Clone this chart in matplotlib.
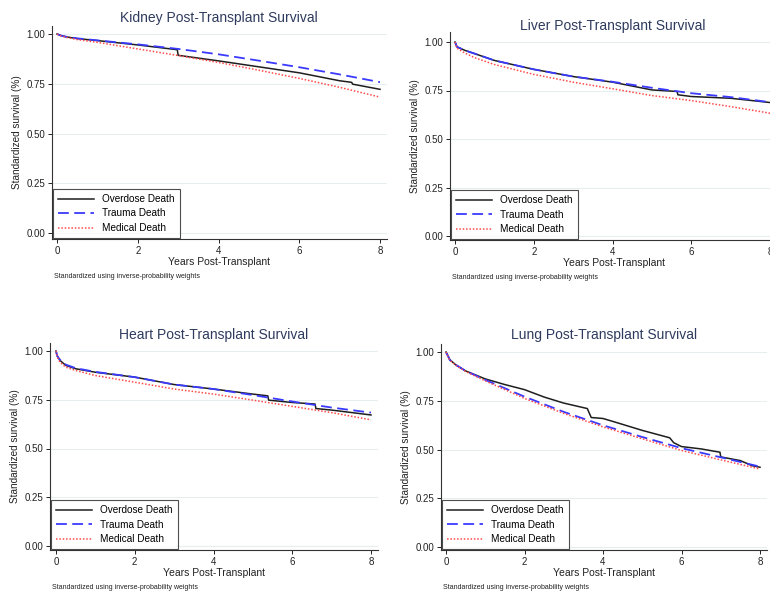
import numpy as np
import matplotlib
matplotlib.use("Agg")
import matplotlib.pyplot as plt

plt.rcParams['font.family'] = ['Liberation Sans', 'DejaVu Sans']

W, H = 770, 593

# ---- data (years, standardized survival) ----
kidney_od_t = [0, 0.1, 0.25, 0.5, 1, 2, 2.98, 3.0, 4, 5, 6, 7, 7.3, 7.32, 8]
kidney_od_s = [1.0, 0.992, 0.985, 0.977, 0.967, 0.945, 0.921, 0.893, 0.865, 0.835, 0.805, 0.765, 0.757, 0.748, 0.722]
kidney_tr_t = [0, 0.1, 0.25, 0.5, 1, 2, 3, 4, 5, 6, 7, 8]
kidney_tr_s = [1.0, 0.992, 0.985, 0.978, 0.968, 0.948, 0.925, 0.898, 0.866, 0.833, 0.797, 0.758]
kidney_md_t = [0, 0.1, 0.25, 0.5, 1, 2, 3, 4, 5, 6, 7, 8]
kidney_md_s = [1.0, 0.99, 0.982, 0.972, 0.958, 0.925, 0.892, 0.857, 0.818, 0.777, 0.732, 0.683]

liver_od_t = [0, 0.05, 0.25, 0.5, 1, 2, 3, 4, 5, 5.64, 5.66, 6, 7, 8]
liver_od_s = [1.0, 0.975, 0.957, 0.94, 0.905, 0.859, 0.822, 0.793, 0.753, 0.745, 0.728, 0.719, 0.71, 0.688]
liver_tr_t = [0, 0.05, 0.25, 0.5, 1, 2, 3, 4, 5, 6, 7, 8]
liver_tr_s = [1.0, 0.975, 0.957, 0.94, 0.905, 0.859, 0.822, 0.795, 0.764, 0.736, 0.716, 0.69]
liver_md_t = [0, 0.05, 0.25, 0.5, 1, 2, 3, 4, 5, 6, 7, 8]
liver_md_s = [1.0, 0.968, 0.943, 0.919, 0.884, 0.833, 0.793, 0.759, 0.724, 0.698, 0.667, 0.633]

heart_od_t = [0, 0.03, 0.1, 0.25, 0.5, 1, 2, 3, 4, 5, 5.38, 5.4, 6, 6.58, 6.6, 7, 8]
heart_od_s = [1.0, 0.975, 0.952, 0.926, 0.909, 0.891, 0.866, 0.828, 0.805, 0.779, 0.77, 0.748, 0.736, 0.728, 0.705, 0.697, 0.672]
heart_tr_t = [0, 0.03, 0.1, 0.25, 0.5, 1, 2, 3, 4, 5, 6, 7, 8]
heart_tr_s = [1.0, 0.975, 0.955, 0.93, 0.912, 0.893, 0.866, 0.828, 0.805, 0.774, 0.741, 0.71, 0.684]
heart_md_t = [0, 0.03, 0.1, 0.25, 0.5, 1, 2, 3, 4, 5, 6, 7, 8]
heart_md_s = [1.0, 0.97, 0.943, 0.917, 0.9, 0.874, 0.84, 0.805, 0.779, 0.748, 0.716, 0.684, 0.647]

lung_od_t = [0, 0.1, 0.25, 0.5, 1, 1.5, 2, 2.5, 3, 3.6, 3.7, 4, 4.3, 5, 5.7, 5.8, 6, 6.5, 6.98, 7.0, 7.5, 7.8, 8]
lung_od_s = [1.0, 0.96, 0.934, 0.903, 0.862, 0.833, 0.807, 0.769, 0.738, 0.71, 0.664, 0.659, 0.641, 0.598, 0.56, 0.535, 0.515, 0.503, 0.486, 0.462, 0.443, 0.417, 0.409]
lung_tr_t = [0, 0.1, 0.25, 0.5, 1, 2, 3, 4, 5, 6, 7, 8]
lung_tr_s = [1.0, 0.958, 0.934, 0.903, 0.857, 0.771, 0.693, 0.624, 0.564, 0.507, 0.46, 0.412]
lung_md_t = [0, 0.1, 0.25, 0.5, 1, 2, 3, 4, 5, 6, 7, 8]
lung_md_s = [1.0, 0.957, 0.932, 0.9, 0.852, 0.762, 0.685, 0.616, 0.555, 0.495, 0.447, 0.40]

titles = ["Kidney Post-Transplant Survival", "Liver Post-Transplant Survival",
          "Heart Post-Transplant Survival", "Lung Post-Transplant Survival"]
labels = ["Overdose Death", "Trauma Death", "Medical Death"]
yticks = [0, 0.25, 0.5, 0.75, 1.0]
xticks = [0, 2, 4, 6, 8]

panels = [
    [(kidney_od_t, kidney_od_s), (kidney_tr_t, kidney_tr_s), (kidney_md_t, kidney_md_s)],
    [(liver_od_t, liver_od_s), (liver_tr_t, liver_tr_s), (liver_md_t, liver_md_s)],
    [(heart_od_t, heart_od_s), (heart_tr_t, heart_tr_s), (heart_md_t, heart_md_s)],
    [(lung_od_t, lung_od_s), (lung_tr_t, lung_tr_s), (lung_md_t, lung_md_s)],
]

# pixel layout: spine left/right/top/bottom, x=0 & x=8 pixel, y=1 & y=0 pixel
layout = [
    dict(l=52, r=387, t=26, b=239, x0=57, x8=380, y1=34, y0=233, title_y=18, tcx=219),
    dict(l=450, r=778, t=32, b=240, x0=455, x8=770, y1=42, y0=236, title_y=26, tcx=613),
    dict(l=50, r=378, t=343, b=550, x0=56, x8=371, y1=351, y0=546, title_y=335, tcx=214),
    dict(l=441, r=767, t=344, b=550, x0=446, x8=760, y1=352, y0=547, title_y=335, tcx=604),
]

styles = [
    dict(color='#1e1e1e', lw=1.1, ls='-'),
    dict(color='#3a3aff', lw=1.3, ls=(0, (6, 3))),
    dict(color='#ff4a4a', lw=1.1, ls=(0, (1, 1.2))),
]

fig = plt.figure(figsize=(W / 100, H / 100), dpi=100)
fig.patch.set_facecolor('white')

for k in range(4):
    L = layout[k]
    ax = fig.add_axes([L['l'] / W, 1 - L['b'] / H, (L['r'] - L['l']) / W, (L['b'] - L['t']) / H])
    xpp = 8.0 / (L['x8'] - L['x0'])
    ypp = 1.0 / (L['y0'] - L['y1'])
    ax.set_xlim((L['l'] - L['x0']) * xpp, 8 + (L['r'] - L['x8']) * xpp)
    ax.set_ylim(-(L['b'] - L['y0']) * ypp, 1 + (L['y1'] - L['t']) * ypp)

    for (t, s), st, lab in zip(panels[k], styles, labels):
        ax.plot(t, s, label=lab, **st)

    ax.set_yticks(yticks)
    ax.set_yticklabels(["%.2f" % v for v in yticks])
    ax.set_xticks(xticks)
    ax.tick_params(labelsize=7, length=3, width=0.7, pad=2, colors='#222222')
    for v in yticks:
        ax.axhline(v, color='#e6eef0', lw=0.8, zorder=0)
    for side in ['top', 'right']:
        ax.spines[side].set_visible(False)
    for side in ['left', 'bottom']:
        ax.spines[side].set_linewidth(0.8)
        ax.spines[side].set_color('#333333')

    ax.set_ylabel("Standardized survival (%)", fontsize=7.2, labelpad=3, color='#222222')
    ax.set_xlabel("Years Post-Transplant", fontsize=7.5, labelpad=1, color='#222222')
    fig.text(L['tcx'] / W, 1 - L['title_y'] / H, titles[k], ha='center', va='center',
             fontsize=10, color='#2e3b5e')
    fig.text((L['l'] + 2) / W, 1 - (L['b'] + 39) / H,
             "Standardized using inverse-probability weights", fontsize=5, color='#222222')

    leg = ax.legend(loc='lower left', fontsize=7.2, frameon=True, fancybox=False,
                    borderaxespad=0.1, handlelength=3.6, labelspacing=0.45,
                    borderpad=0.5, handletextpad=0.8)
    leg.get_frame().set_edgecolor('#222222')
    leg.get_frame().set_linewidth(0.8)

fig.savefig("out.png", dpi=100, facecolor='white')
